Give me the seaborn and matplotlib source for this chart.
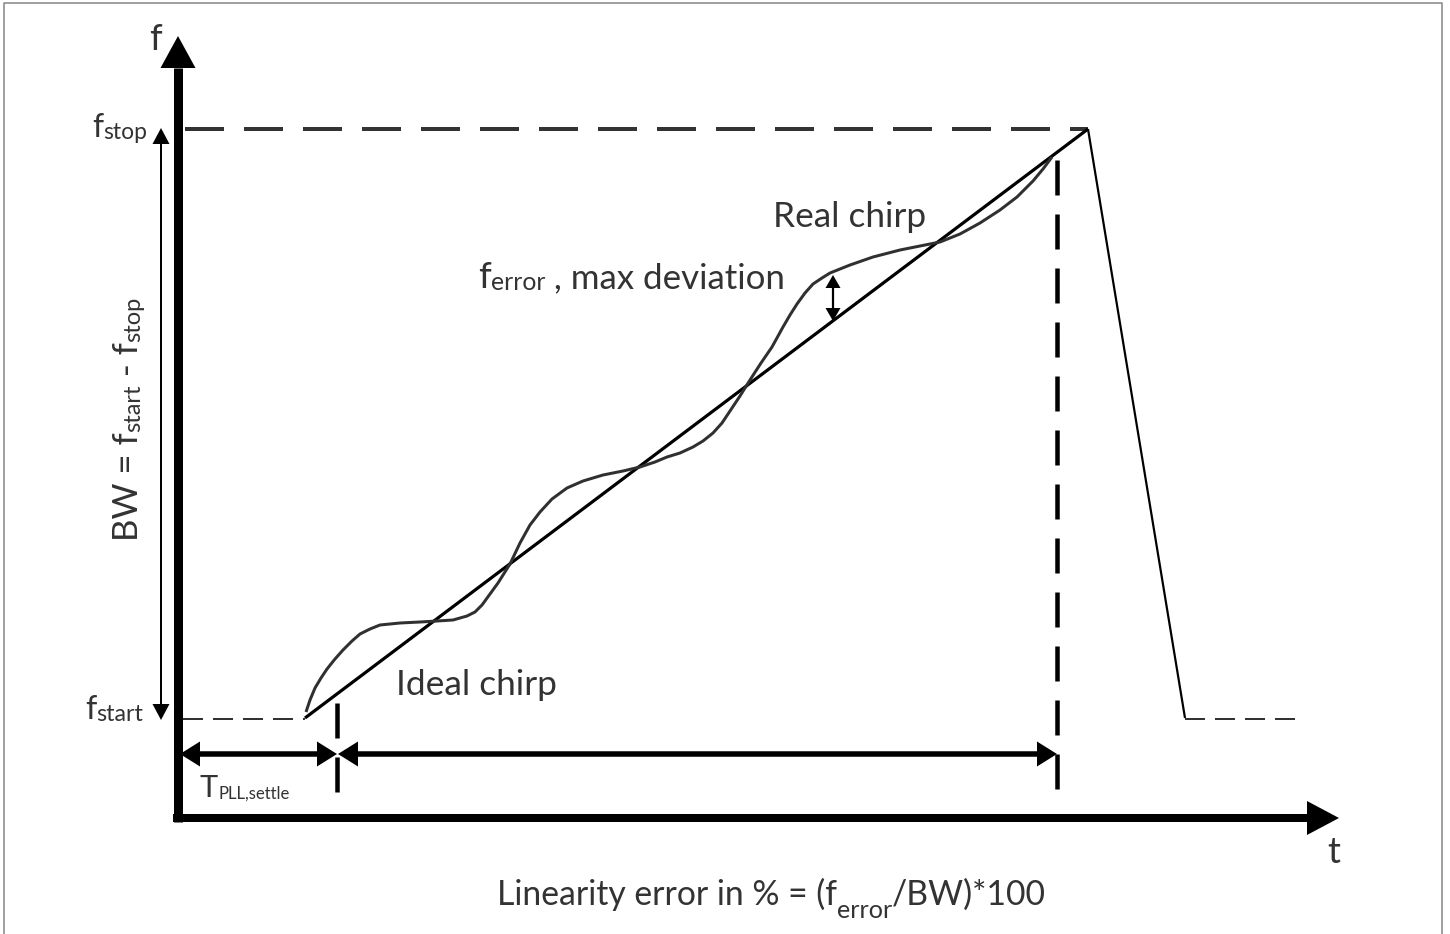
import numpy as np
import pandas as pd
import seaborn as sns
import matplotlib
matplotlib.use("Agg")
import matplotlib.pyplot as plt

sns.set_theme(style="white")
plt.rcParams['font.family'] = ['Lato', 'DejaVu Sans']
plt.rcParams['lines.scale_dashes'] = False
plt.rcParams['lines.solid_capstyle'] = 'butt'
plt.rcParams['lines.dash_capstyle'] = 'butt'

# ---------------- data (diagram units: pixels, y downward) ----------------
real_t = [306, 310, 315, 321, 327, 335, 343, 352, 360, 370, 380, 400, 420,
          437, 453, 467, 475, 482, 490, 498, 510, 520, 530, 540, 552, 567,
          583, 603, 623, 640, 655, 667, 680, 693, 703, 713, 722, 730, 740,
          750, 761, 772, 783, 790, 797, 805, 813, 822, 830, 850, 873, 900,
          920, 940, 960, 980, 1000, 1017, 1033, 1043, 1052]
real_f = [712, 700, 688, 678, 669, 659, 650, 641, 634, 629, 625, 623, 622,
          621, 620, 616, 612, 605, 594, 583, 564, 543, 525, 512, 499, 488,
          481, 475, 471, 467, 462, 457, 453, 447, 441, 433, 423, 411, 396,
          380, 363, 347, 327, 315, 304, 293, 284, 278, 273, 265, 257, 250,
          246, 242, 234, 223, 210, 197, 181, 169, 157]
ideal_t = [305, 1088]
ideal_f = [718, 129]
ramp_t = [1088, 1185]
ramp_f = [129, 718]

f_stop_level = 129
f_start_level = 719
t_origin = 178
f_origin = 818
t_settle = 337
t_end = 1057

TEXT = '#333333'
DASH = '#333333'

W, H = 1450, 934
fig = plt.figure(figsize=(W / 100, H / 100), dpi=100)
ax = fig.add_axes([0, 0, 1, 1])
ax.set_xlim(0, W)
ax.set_ylim(H, 0)
ax.axis('off')

PX = 72 / 100  # points per pixel


def head(tip, direction, length, width, color='black'):
    tx, ty = tip
    dx, dy = direction
    n = np.hypot(dx, dy)
    dx, dy = dx / n, dy / n
    bx, by = tx - dx * length, ty - dy * length
    px, py = -dy, dx
    ax.fill([tx, bx + px * width / 2, bx - px * width / 2],
            [ty, by + py * width / 2, by - py * width / 2],
            color=color, lw=0, zorder=5)
    return bx, by


def darrow(p0, p1, lw, hl, hw, color='black'):
    d = (p1[0] - p0[0], p1[1] - p0[1])
    b1 = head(p1, d, hl, hw, color)
    b0 = head(p0, (-d[0], -d[1]), hl, hw, color)
    ax.plot([b0[0], b1[0]], [b0[1], b1[1]], color=color, lw=lw * PX,
            zorder=4)


# frame
ax.plot([4.5, 4.5, 1442.5, 1442.5], [H, 2.5, 2.5, H], color='#8a8a8a',
        lw=1.6 * PX)

# axes
ybase = head((t_origin, 36), (0, -1), 32, 35)
ax.plot([t_origin, t_origin], [f_origin + 4, ybase[1]], color='black',
        lw=9 * PX)
xbase = head((1339, f_origin), (1, 0), 32, 34)
ax.plot([t_origin - 4.5, xbase[0]], [f_origin, f_origin], color='black',
        lw=8 * PX)

# level dashed lines
ax.plot([185, ideal_t[1]], [f_stop_level, f_stop_level], color=DASH,
        lw=4 * PX, ls=(0, (39 * PX, 20 * PX)))
ax.plot([183, ideal_t[0]], [f_start_level, f_start_level], color=DASH,
        lw=2 * PX, ls=(0, (20 * PX, 10 * PX)))
ax.plot([ramp_t[1], 1297], [f_start_level, f_start_level], color=DASH,
        lw=2 * PX, ls=(0, (20 * PX, 10 * PX)))

# vertical dashed markers
ax.plot([t_end, t_end], [160, 793], color='black', lw=4.5 * PX,
        ls=(0, (35 * PX, 19 * PX)))
ax.plot([t_settle, t_settle], [703, 793], color='black', lw=4.5 * PX,
        ls=(0, (35 * PX, 19 * PX)))

# chirps
sns.lineplot(x=ideal_t, y=ideal_f, ax=ax, color='black', lw=3.2 * PX,
             sort=False, estimator=None)
sns.lineplot(x=ramp_t, y=ramp_f, ax=ax, color='black', lw=2.2 * PX,
             sort=False, estimator=None)
sns.lineplot(x=real_t, y=real_f, ax=ax, color='#303030', lw=3.0 * PX,
             sort=False, estimator=None)
for ln in ax.get_lines():
    ln.set_solid_joinstyle('round')

# arrows
darrow((161, 128), (161, 720), 2, 16, 17)
darrow((180, 754), (t_settle, 754), 5.5, 20, 25)
darrow((t_settle + 1, 754), (t_end, 754), 5.5, 20, 25)
darrow((833, 275), (833, 321), 2.2, 13, 15)


# ---------------- text ----------------
def _build(x, y, pieces, rotation, k):
    arts = []
    prev = None
    for txt, size, dy in pieces:
        s = size * k
        if prev is None:
            prev = ax.text(x, y, txt, fontsize=s, color=TEXT,
                           ha='left' if rotation == 0 else 'right',
                           va='baseline' if rotation == 0 else 'bottom',
                           rotation=rotation)
        elif rotation == 0:
            prev = ax.annotate(txt, xy=(1, 0), xycoords=prev,
                               xytext=(0, dy * k), textcoords='offset points',
                               ha='left', va='bottom', fontsize=s, color=TEXT)
        else:
            prev = ax.annotate(txt, xy=(1, 1), xycoords=prev,
                               xytext=(dy * k, 0), textcoords='offset points',
                               ha='right', va='bottom', fontsize=s,
                               color=TEXT, rotation=90)
        arts.append(prev)
    return arts


def compound(x, y, pieces, target=None, rotation=0):
    """Place text pieces in a row, optionally scaled to span `target` px."""
    arts = _build(x, y, pieces, rotation, 1.0)
    if target is None:
        return arts
    fig.canvas.draw()
    r = fig.canvas.get_renderer()
    bbs = [a.get_window_extent(r) for a in arts]
    if rotation == 0:
        span = max(b.x1 for b in bbs) - min(b.x0 for b in bbs)
    else:
        span = max(b.y1 for b in bbs) - min(b.y0 for b in bbs)
    for a in arts:
        a.remove()
    return _build(x, y, pieces, rotation, target / span)


ax.text(149, 50, 'f', fontsize=26, color=TEXT, ha='left', va='baseline')
ax.text(1327, 863, 't', fontsize=26, color=TEXT, ha='left', va='baseline')
compound(92, 137, [('f', 25, 0), ('stop', 18, 0)], 55)
compound(85, 719, [('f', 25, 0), ('start', 18, 0)], 58)
compound(144, 541, [('BW = f', 25, 0), ('start', 17, 0), (' - f', 25, 0),
                    ('stop', 17, 0)], rotation=90)
compound(773, 227, [('Real chirp', 24, 0)], 153)
compound(478, 288, [('f', 25, 0), ('error', 17, 0),
                    (' , max deviation', 24, 0)], 307)
compound(396, 695, [('Ideal chirp', 24, 0)], 161)
compound(200, 797, [('T', 24, 0), ('PLL,settle', 13, 0)], 90)
compound(497, 905, [('Linearity error in % = (f', 24, 0), ('error', 18, -8),
                    ('/BW)*100', 24, 8)], 550)

fig.savefig('out.png', dpi=100)
